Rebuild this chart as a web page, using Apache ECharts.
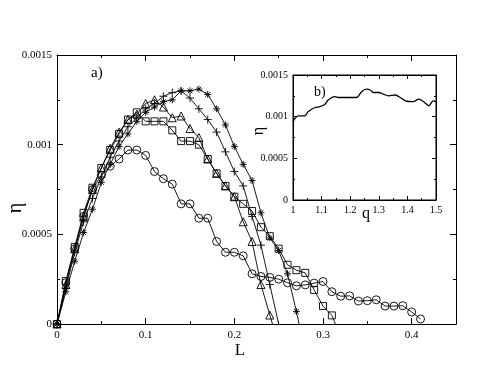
<!DOCTYPE html>
<html><head><meta charset="utf-8">
<script src="https://cdn.jsdelivr.net/npm/echarts@6/dist/echarts.min.js"></script>
<style>html,body{margin:0;padding:0;background:#fff}#c{width:494px;height:382px}</style>
</head><body><div id="c"></div>
<script>
const step = 0.01;
const circleY = [0,0.00023,0.00042,0.0006,0.00075,0.00083,0.00088,0.00092,0.00097,0.00097,0.00094,0.00085,0.00081,0.00078,0.00067,0.00067,0.00059,0.00059,0.00046,0.0004,0.0004,0.00038,0.00028,0.000265,0.00026,0.00025,0.00023,0.000213,0.000218,0.000228,0.000237,0.00018,0.000155,0.000157,0.000128,0.00013,0.000135,0.0001,0.0001,0.000102,0.000067,0.000028];
const squareY = [0,0.00024,0.00043,0.00062,0.00076,0.00087,0.00097,0.00106,0.00114,0.00118,0.00113,0.00113,0.00113,0.00108,0.00102,0.00102,0.001,0.00092,0.00084,0.00077,0.00071,0.00067,0.00063,0.00054,0.00049,0.00042,0.00033,0.0003,0.000285,0.00019,0.0001,0.000048];
const triangleY = [0,0.00022,0.00042,0.0006,0.00075,0.00087,0.00098,0.00107,0.00114,0.00117,0.00123,0.00125,0.00121,0.00115,0.00116,0.00109,0.00104,0.00092,0.00084,0.00077,0.00071,0.00057,0.00046,0.00022,0.00005];
const plusY = [0,0.0002,0.0004,0.00057,0.0007,0.00082,0.00093,0.00102,0.0011,0.00115,0.0012,0.00123,0.00127,0.00129,0.0013,0.00126,0.0012,0.00114,0.00107,0.00096,0.00085,0.00077,0.0006,0.00044,0.00022];
const starY = [0,0.00018,0.00035,0.00051,0.00064,0.00079,0.00089,0.00099,0.00106,0.00113,0.00118,0.00121,0.00124,0.00125,0.0013,0.0013,0.00131,0.00128,0.0012,0.00111,0.00099,0.00089,0.0008,0.00062,0.00048,0.00041,0.00028,0.00007];
// where each curve reaches the axis after its last marker
const endL = {circle: null, square: 0.314, triangle: 0.243, plus: 0.25, star: 0.273};

const insetQ = [1,1.018,1.041,1.053,1.077,1.094,1.112,1.123,1.147,1.159,1.18,1.2,1.222,1.24,1.257,1.27,1.28,1.3,1.316,1.334,1.358,1.375,1.393,1.42,1.44,1.457,1.475,1.49,1.5];
const insetEta = [0.00094,0.00101,0.00101,0.00106,0.00111,0.00112,0.00115,0.0012,0.00124,0.00123,0.00123,0.00123,0.00123,0.0013,0.00133,0.00132,0.00129,0.00129,0.00127,0.00125,0.00126,0.00123,0.00119,0.00118,0.00121,0.00118,0.00113,0.00119,0.00118];

const mainXTicks = ['0','0.1','0.2','0.3','0.4'];

function build(ys, end) {
  const d = ys.map((y, i) => [+(i * step).toFixed(3), y]);
  if (end != null) d.push({value: [end, 0], symbol: 'none'});
  return d;
}
const FONT = 'Liberation Serif';
const starPath = 'path://M5,0L5,10M0,5L10,5M1.5,1.5L8.5,8.5M8.5,1.5L1.5,8.5';
const plusPath = 'path://M5,0L5,10M0,5L10,5';

function mk(name, ys, end, symbol, size) {
  return {
    type: 'line', name, data: build(ys, end), xAxisIndex: 0, yAxisIndex: 0,
    symbol, symbolSize: size, showSymbol: true, animation: false,
    lineStyle: {color: '#000', width: 0.9},
    itemStyle: {color: 'rgba(0,0,0,0)', borderColor: '#000', borderWidth: 0.9},
    emphasis: {disabled: true}
  };
}
function axisCommon(extra) {
  return Object.assign({
    type: 'value', splitLine: {show: false},
    axisLine: {show: true, onZero: false, lineStyle: {color: '#000', width: 1}},
    axisTick: {show: true, inside: true, length: 6, lineStyle: {color: '#000'}},
    minorTick: {show: true, splitNumber: 2, length: 3, lineStyle: {color: '#000'}},
  }, extra);
}
const chart = echarts.init(document.getElementById('c'), null, {renderer: 'canvas'});
chart.setOption({
  backgroundColor: '#fff',
  animation: false,
  grid: [
    {left: 57, top: 55, right: 38, bottom: 58, show: false},
    {left: 293, top: 75, width: 143, height: 125, show: true, backgroundColor: '#fff', borderColor: '#000', borderWidth: 1, z: 5}
  ],
  xAxis: [
    axisCommon({gridIndex: 0, min: 0, max: 0.45, interval: 0.1, position: 'bottom',
      axisLabel: {color: '#000', fontFamily: FONT, fontSize: 11, margin: 6, showMaxLabel: false,
        formatter: v => { const s = mainXTicks[Math.round(v * 10)]; return s === undefined ? '' : s; }}}),
    axisCommon({gridIndex: 0, min: 0, max: 0.45, interval: 0.1, position: 'top', axisLabel: {show: false}}),
    axisCommon({gridIndex: 1, min: 1, max: 1.5, interval: 0.1, position: 'bottom', z: 6,
      axisLabel: {color: '#000', fontFamily: FONT, fontSize: 10, margin: 5}, axisTick: {show: true, inside: true, length: 4}, minorTick: {show: true, splitNumber: 2, length: 2}}),
    axisCommon({gridIndex: 1, min: 1, max: 1.5, interval: 0.1, position: 'top', z: 6, axisLabel: {show: false}, axisTick: {show: true, inside: true, length: 4}, minorTick: {show: true, splitNumber: 2, length: 2}})
  ],
  yAxis: [
    axisCommon({gridIndex: 0, min: 0, max: 0.0015, interval: 0.0005, position: 'left',
      axisLabel: {color: '#000', fontFamily: FONT, fontSize: 11, margin: 5}}),
    axisCommon({gridIndex: 0, min: 0, max: 0.0015, interval: 0.0005, position: 'right', axisLabel: {show: false}}),
    axisCommon({gridIndex: 1, min: 0, max: 0.0015, interval: 0.0005, position: 'left', z: 6,
      axisLabel: {color: '#000', fontFamily: FONT, fontSize: 10, margin: 5}, axisTick: {show: true, inside: true, length: 4}, minorTick: {show: true, splitNumber: 2, length: 2}}),
    axisCommon({gridIndex: 1, min: 0, max: 0.0015, interval: 0.0005, position: 'right', z: 6, axisLabel: {show: false}, axisTick: {show: true, inside: true, length: 4}, minorTick: {show: true, splitNumber: 2, length: 2}})
  ],
  series: [
    mk('circle', circleY, endL.circle, 'circle', 8),
    mk('square', squareY, endL.square, 'rect', 7),
    mk('triangle', triangleY, endL.triangle, 'triangle', 8),
    mk('plus', plusY, endL.plus, plusPath, 8),
    mk('star', starY, endL.star, starPath, 7),
    {type: 'line', name: 'inset', xAxisIndex: 2, yAxisIndex: 2, z: 7,
      data: insetQ.map((q, i) => [q, insetEta[i]]), showSymbol: false, symbol: 'none', smooth: 0.3,
      lineStyle: {color: '#000', width: 1.3}, animation: false}
  ],
  graphic: [
    {type: 'text', left: 91, top: 66, z: 10, style: {text: 'a)', font: '15px "Liberation Serif"', fill: '#000'}},
    {type: 'text', left: 314, top: 85, z: 10, style: {text: 'b)', font: '14px "Liberation Serif"', fill: '#000'}},
    {type: 'text', x: 16, y: 208, rotation: Math.PI / 2, z: 10, style: {text: 'η', font: '20px "Liberation Serif"', fill: '#000', align: 'center', verticalAlign: 'middle'}},
    {type: 'text', x: 240, y: 351, z: 10, style: {text: 'L', font: '17px "Liberation Serif"', fill: '#000', align: 'center', verticalAlign: 'middle'}},
    {type: 'text', x: 259, y: 131, rotation: Math.PI / 2, z: 10, style: {text: 'η', font: '16px "Liberation Serif"', fill: '#000', align: 'center', verticalAlign: 'middle'}},
    {type: 'text', x: 366, y: 214, z: 10, style: {text: 'q', font: '16px "Liberation Serif"', fill: '#000', align: 'center', verticalAlign: 'middle'}}
  ]
});
</script></body></html>
